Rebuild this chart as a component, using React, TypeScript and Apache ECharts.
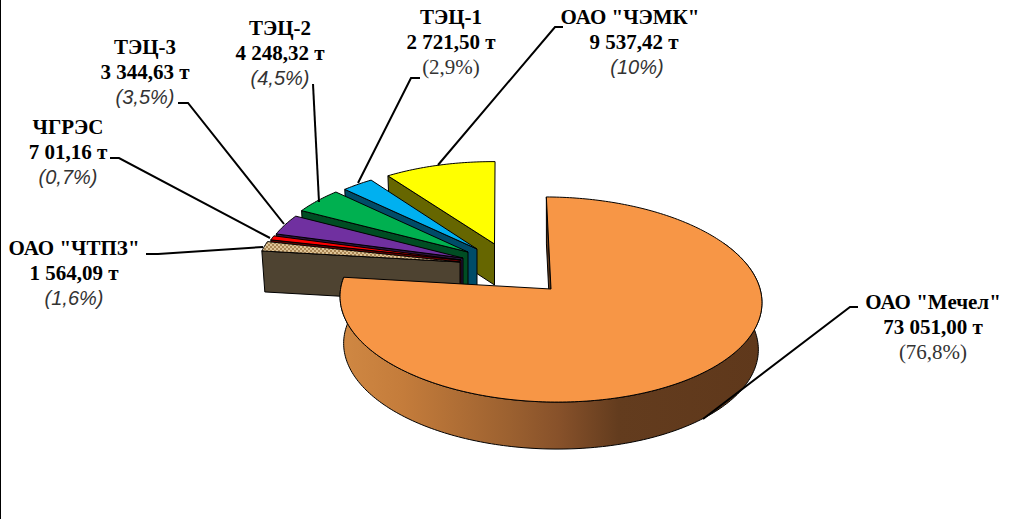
import React, { useEffect, useRef } from "react";
import * as echarts from "echarts";

const categories = ['ОАО "Мечел"', 'ОАО "ЧТПЗ"', "ЧГРЭС", "ТЭЦ-3", "ТЭЦ-2", "ТЭЦ-1", 'ОАО "ЧЭМК"'];
const values = [73051.0, 1564.09, 701.16, 3344.63, 4248.32, 2721.5, 9537.42];
const valueLabels = ["73 051,00 т", "1 564,09 т", "7 01,16 т", "3 344,63 т", "4 248,32 т", "2 721,50 т", "9 537,42 т"];
const percentLabels = ["(76,8%)", "(1,6%)", "(0,7%)", "(3,5%)", "(4,5%)", "(2,9%)", "(10%)"];

// styling and layout
const topColors = ["#F79646", "#D3B283", "#FF0000", "#7030A0", "#00B050", "#00B0F0", "#FFFF00"];
const wallColors = ["#5F3A1C", "#4E4331", "#660000", "#2D1340", "#004D23", "#004C68", "#666600"];
const apexes = [[551, 289], [460, 262], [461, 260], [463, 258], [468, 252], [477, 249], [494.5, 244]];
const radii = [1, 0.985, 0.975, 0.975, 0.975, 0.975, 0.975];
const depths = [47, 41, 41, 41, 41, 41, 41];
const bottomScaleX = [0.983, 0.985, 0.985, 0.985, 0.985, 0.985, 0.985];
const labelCenters = [[933, 302], [74, 248], [68, 127], [145, 47], [280, 28], [451, 17], [630, 17]];
const labelLineShift = [[0, 0, 0], [0, 0, 0], [0, 0, 0], [0, 0, 0], [0, 0, 0], [0, 0, 0], [0, 4, 7]];
const percentSerif = [true, false, false, false, false, true, false];
const leaders = [
  [[703, 419], [850, 307], [858, 307]],
  [[263, 247], [158, 254], [146, 254]],
  [[270, 238], [119, 158], [110, 158]],
  [[284, 224], [188, 103], [178, 103]],
  [[319, 202], [313, 84]],
  [[358, 183], [411, 78], [420, 78]],
  [[438, 165], [555, 27], [563, 27]],
];

const CX = 551, CY = 289, D = 9.76, A = 990, F = 2048, BOTTOM_SCALE_Y = 1, SHEAR = 0.015, START = -1.4;
const total = values.reduce((a, b) => a + b, 0);
const rad = (t: number) => (t * Math.PI) / 180;
const project = (X: number, Y: number) => {
  const x = (F * X) / (D + Y);
  return [CX + x, CY - (A * Y) / (D + Y) + SHEAR * x];
};
const plane = (p: number[]) => {
  const sy = p[1] - CY - SHEAR * (p[0] - CX);
  const Y = (-sy * D) / (A + sy);
  return [((p[0] - CX) * (D + Y)) / F, Y];
};

function wovenTexture() {
  const c = document.createElement("canvas");
  c.width = 4;
  c.height = 4;
  const g = c.getContext("2d")!;
  g.fillStyle = "#DFC597";
  g.fillRect(0, 0, 4, 4);
  g.fillStyle = "#A98655";
  g.fillRect(0, 0, 2, 2);
  g.fillRect(2, 2, 2, 2);
  return c.toDataURL();
}

function makeRenderer(texture: string) {
  return function renderSlice(_: any, api: any) {
    const i = api.value(0);
    let from = START;
    for (let k = 0; k < i; k++) from += (values[k] / total) * 360;
    const to = from + (api.value(1) / total) * 360;
    const apex = apexes[i];
    const o = plane(apex);
    const R = radii[i];
    const top = (t: number) => project(o[0] + R * Math.sin(rad(t)), o[1] + R * Math.cos(rad(t)));
    const low = (p: number[]) => [
      apex[0] + bottomScaleX[i] * (p[0] - apex[0]),
      apex[1] + BOTTOM_SCALE_Y * (p[1] - apex[1]) + depths[i],
    ];
    const arc: number[][] = [];
    const n = Math.max(4, Math.ceil(to - from));
    for (let k = 0; k <= n; k++) arc.push(top(from + ((to - from) * k) / n));
    const children: any[] = [];
    const stroke = { stroke: "#000", lineWidth: 1, lineJoin: "round" };
    children.push({
      type: "polygon",
      shape: { points: [apex, arc[0], low(arc[0]), low(apex)] },
      style: { fill: wallColors[i], ...stroke },
    });
    if (i === 0) {
      const rim: number[][] = [];
      for (let t = 60; t <= to; t += 1) rim.push(top(t));
      rim.push(top(to));
      const pts = rim.concat(rim.slice().reverse().map(low));
      children.push({
        type: "polygon",
        shape: { points: pts },
        style: {
          fill: new echarts.graphic.LinearGradient(0, 0, 1, 0, [
            { offset: 0, color: "#D08843" },
            { offset: 0.15, color: "#C47C3B" },
            { offset: 0.4, color: "#9C6130" },
            { offset: 0.52, color: "#87512A" },
            { offset: 0.66, color: "#633C1E" },
            { offset: 1, color: "#5F381B" },
          ]),
          ...stroke,
        },
      });
    }
    children.push({
      type: "polygon",
      shape: { points: [apex, ...arc] },
      style: {
        fill: i === 1 ? { image: texture, repeat: "repeat" } : topColors[i],
        ...stroke,
      },
    });
    return { type: "group", children };
  };
}

export default function App() {
  const ref = useRef<HTMLDivElement>(null);
  useEffect(() => {
    document.body.style.margin = "0";
    document.body.style.background = "#fff";
    const chart = echarts.init(ref.current!, null, { renderer: "svg" });
    const graphic: any[] = [
      { type: "rect", shape: { x: 0, y: 0, width: 1, height: 519 }, style: { fill: "#000" }, z: 20 },
    ];
    leaders.forEach((pts) => {
      graphic.push({
        type: "polyline",
        shape: { points: pts },
        style: { stroke: "#000", lineWidth: 2, fill: "none" },
        z: 20,
      });
    });
    categories.forEach((name, i) => {
      const [x, y] = labelCenters[i];
      const lines = [name, valueLabels[i], percentLabels[i]];
      lines.forEach((text, l) => {
        let font = 'bold 21px "Liberation Serif"';
        let fill = "#000";
        if (l === 2) {
          font = percentSerif[i] ? 'normal 21px "Liberation Serif"' : 'italic 20px "Liberation Sans"';
          fill = "#333";
        }
        graphic.push({
          type: "text",
          z: 21,
          style: {
            text,
            x: x + labelLineShift[i][l],
            y: y + l * 25,
            textAlign: "center",
            textVerticalAlign: "middle",
            font,
            fill,
          },
        });
      });
    });
    chart.setOption({
      animation: false,
      backgroundColor: "#fff",
      graphic,
      series: [
        {
          type: "custom",
          coordinateSystem: "none",
          silent: true,
          renderItem: makeRenderer(wovenTexture()),
          // painter's order: the far slices first, the largest slice last
          data: values.map((v, i) => [i, v]).reverse(),
        },
      ],
    });
    return () => chart.dispose();
  }, []);
  return <div ref={ref} style={{ width: 1010, height: 519 }} />;
}
